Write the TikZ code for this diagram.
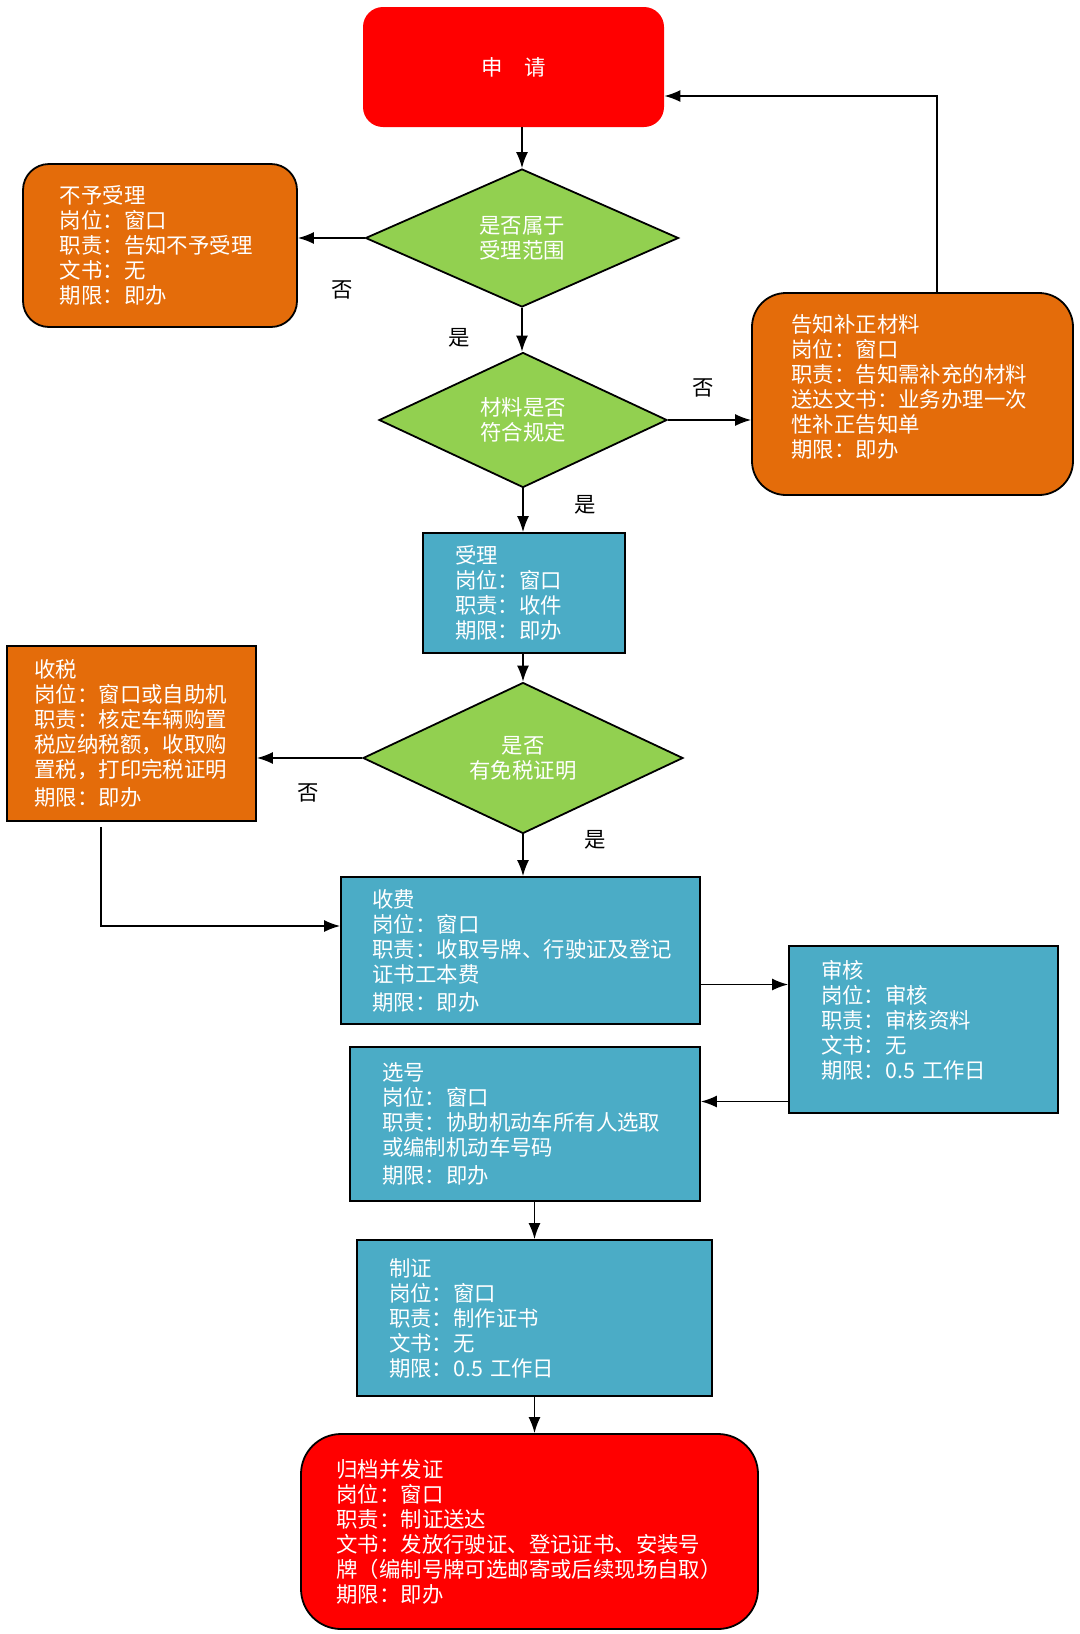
\documentclass[tikz,border=0pt]{standalone}
\usepackage{fontspec}
\setmainfont{Noto Sans CJK SC}
\usetikzlibrary{shapes.geometric,arrows.meta}
\definecolor{bred}{HTML}{FF0000}
\definecolor{bgreen}{HTML}{92D050}
\definecolor{borange}{HTML}{E46C0A}
\definecolor{bblue}{HTML}{4BACC6}
\tikzset{
  txt/.style={font=\fontsize{10.7pt}{12.5pt}\selectfont},
  boxed/.style={txt, draw=black, line width=0.9pt, text=white, align=left, inner xsep=0pt, inner ysep=0pt},
  bluebox/.style={boxed, fill=bblue},
  orangebox/.style={boxed, fill=borange},
  choice/.style={txt, diamond, draw=black, line width=0.9pt, fill=bgreen, text=white, align=center, inner sep=0pt},
  arr/.style={-{Latex[length=8pt,width=6pt]}, line width=0.8pt},
  yesno/.style={txt, text=black}
}
\begin{document}
\begin{tikzpicture}[x=0.5pt,y=-0.5pt]
\useasboundingbox (0,0) rectangle (1080,1634);
\node[txt, fill=bred, text=white, rounded corners=10pt, minimum width=150.5pt, minimum height=60pt] (sq) at (513.5,67) {申\hspace{1em}请};
\node[choice, minimum width=156.5pt, minimum height=69pt] (d1) at (522,238) {是否属于\\受理范围};
\node[orangebox, rounded corners=13pt, minimum width=137pt, minimum height=81.5pt, text width=100pt] (no) at (160,245.5) {不予受理\\岗位：窗口\\职责：告知不予受理\\文书：无\\期限：即办};
\node[choice, minimum width=144pt, minimum height=67.5pt] (d2) at (523,420) {材料是否\\符合规定};
\node[orangebox, rounded corners=17pt, minimum width=160.5pt, minimum height=101pt, text width=121pt] (bz) at (912.5,394) {告知补正材料\\岗位：窗口\\职责：告知需补充的材料\\送达文书：业务办理一次\\性补正告知单\\期限：即办\\[-4pt]\mbox{}};
\node[bluebox, minimum width=101pt, minimum height=60pt, text width=69pt] (sl) at (524,593) {受理\\岗位：窗口\\职责：收件\\期限：即办};
\node[choice, minimum width=160pt, minimum height=68pt] (d3) at (523,758) {是否\\有免税证明};
\node[orangebox, minimum width=124.5pt, minimum height=87.5pt, text width=97pt] (ss) at (131.5,733.5) {收税\\岗位：窗口或自助机\\职责：核定车辆购置\\税应纳税额，收取购\\置税，打印完税证明\\[1.5pt]期限：即办};
\node[bluebox, minimum width=179.5pt, minimum height=73.5pt, text width=148pt] (sf) at (520.5,950.5) {收费\\岗位：窗口\\职责：收取号牌、行驶证及登记\\证书工本费\\[1.5pt]期限：即办};
\node[bluebox, minimum width=134.5pt, minimum height=83.5pt, text width=102.5pt] (sh) at (923.5,1029.5) {审核\\岗位：审核\\职责：审核资料\\文书：无\\期限：0.5 工作日\\[-2pt]\mbox{}};
\node[bluebox, minimum width=175pt, minimum height=77pt, text width=143pt] (xh) at (525,1124) {选号\\岗位：窗口\\职责：协助机动车所有人选取\\或编制机动车号码\\[1.5pt]期限：即办};
\node[bluebox, minimum width=177.5pt, minimum height=78pt, text width=145.5pt] (zz) at (534.5,1318) {制证\\岗位：窗口\\职责：制作证书\\文书：无\\期限：0.5 工作日};
\node[boxed, fill=bred, rounded corners=20pt, minimum width=228.5pt, minimum height=97.5pt, text width=193pt] (gd) at (529.5,1531.5) {归档并发证\\岗位：窗口\\职责：制证送达\\文书：发放行驶证、登记证书、安装号\\牌（编制号牌可选邮寄或后续现场自取）\\期限：即办};
\node[yesno] (n1) at (342,290) {否};
\node[yesno] (y1) at (459,338) {是};
\node[yesno] (n2) at (703,388) {否};
\node[yesno] (y2) at (585,505) {是};
\node[yesno] (n3) at (308,793) {否};
\node[yesno] (y3) at (595,840) {是};
\coordinate (fb) at (937,96);
\coordinate (ct) at (101,926);
\draw[arr] (d1.north |- sq.south) -- (d1.north);
\draw[arr] (d1.west) -- (d1.west -| no.east);
\draw[arr] (d1.south) -- (d1.south |- d2.north);
\draw[arr] (d2.east) -- (d2.east -| bz.west);
\draw[arr] (bz.north -| fb) -- (fb) -- (fb -| sq.east);
\draw[arr] (d2.south) -- (d2.south |- sl.north);
\draw[arr] (d3.north |- sl.south) -- (d3.north);
\draw[arr] (d3.west) -- (d3.west -| ss.east);
\draw[arr] ([yshift=-2.5pt]ss.south -| ct) -- (ct) -- (ct -| sf.west);
\draw[arr] (d3.south) -- (d3.south |- sf.north);
\draw[arr] ([yshift=-17pt]sf.east) -- ([yshift=-17pt]sf.east -| sh.west);
\draw[arr] ([yshift=-36pt]sh.west) -- ([yshift=-36pt]sh.west -| xh.east);
\draw[arr] (zz.north |- xh.south) -- (zz.north);
\draw[arr] (zz.south) -- (zz.south |- gd.north);
\end{tikzpicture}
\end{document}
